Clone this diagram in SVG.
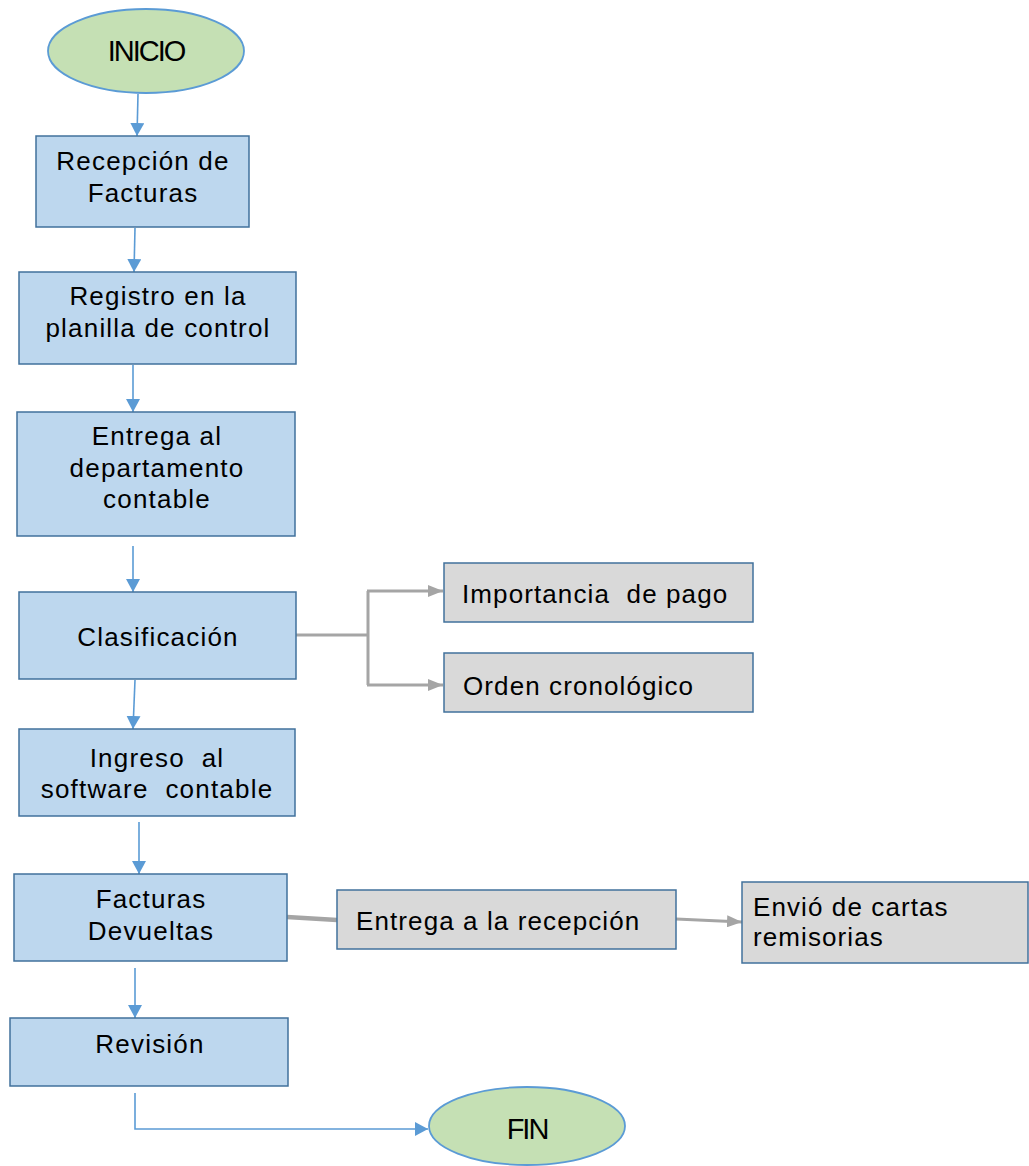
<svg xmlns="http://www.w3.org/2000/svg" width="1029" height="1166" viewBox="0 0 1029 1166">
<style>
.blue{fill:#BDD7EE;stroke:#41719C;stroke-width:1.5}
.gray{fill:#D9D9D9;stroke:#41719C;stroke-width:1.5}
.term{fill:#C5E0B4;stroke:#5B9BD5;stroke-width:1.8}
text{font-family:"Liberation Sans",Arial,sans-serif;fill:#000;white-space:pre}
.t{font-size:26px;letter-spacing:1.2px;text-anchor:middle}
.g{font-size:26px;letter-spacing:1.1px}
.e{font-size:29px;letter-spacing:-2px;text-anchor:middle}
.cb{fill:none;stroke:#5B9BD5;stroke-width:1.6}
.cg{fill:none;stroke:#A5A5A5;stroke-width:3}
</style>
<defs>
<marker id="ab" markerUnits="userSpaceOnUse" markerWidth="13" markerHeight="14" viewBox="0 0 13 14" refX="13" refY="7" orient="auto">
<path d="M0,0 L13,7 L0,14 z" fill="#5B9BD5"/>
</marker>
<marker id="ag" markerUnits="userSpaceOnUse" markerWidth="15" markerHeight="12" viewBox="0 0 15 12" refX="15" refY="6" orient="auto">
<path d="M0,0 L15,6 L0,12 z" fill="#A5A5A5"/>
</marker>
</defs>
<g id="connectors">
<path class="cb" d="M138,94 L137,136" marker-end="url(#ab)"/>
<path class="cb" d="M135,228 L134,272" marker-end="url(#ab)"/>
<path class="cb" d="M133,365 L133,412" marker-end="url(#ab)"/>
<path class="cb" d="M133,546 L133,592" marker-end="url(#ab)"/>
<path class="cb" d="M135,680 L133,729" marker-end="url(#ab)"/>
<path class="cb" d="M139,822 L139,874" marker-end="url(#ab)"/>
<path class="cb" d="M135,968 L135,1018" marker-end="url(#ab)"/>
<path class="cb" d="M135,1093 L135,1129 L428,1129" marker-end="url(#ab)"/>
<path class="cg" d="M296,635 L368,635"/>
<path class="cg" d="M368,591 L368,685"/>
<path class="cg" d="M367,591 L443,591" marker-end="url(#ag)"/>
<path class="cg" d="M367,685 L443,685" marker-end="url(#ag)"/>
<path d="M287,917 L337,920" fill="none" stroke="#A5A5A5" stroke-width="4.5"/>
<path class="cg" d="M676,919 L742,922" marker-end="url(#ag)"/>
</g>
<g id="inicio">
<ellipse class="term" cx="146" cy="51" rx="98" ry="42"/>
<text class="e" x="146" y="61">INICIO</text>
</g>
<g id="recepcion">
<rect class="blue" x="36" y="136" width="213" height="91"/>
<text class="t" x="143" y="170">Recepción de</text>
<text class="t" x="143" y="202">Facturas</text>
</g>
<g id="registro">
<rect class="blue" x="19" y="272" width="277" height="92"/>
<text class="t" x="158" y="305">Registro en la</text>
<text class="t" x="158" y="337">planilla de control</text>
</g>
<g id="entrega-depto">
<rect class="blue" x="17" y="412" width="278" height="124"/>
<text class="t" x="157" y="445">Entrega al</text>
<text class="t" x="157" y="477">departamento</text>
<text class="t" x="157" y="508">contable</text>
</g>
<g id="clasificacion">
<rect class="blue" x="19" y="592" width="277" height="87"/>
<text class="t" x="158" y="646">Clasificación</text>
</g>
<g id="importancia">
<rect class="gray" x="444" y="563" width="309" height="59"/>
<text class="g" x="462" y="603">Importancia  de pago</text>
</g>
<g id="orden">
<rect class="gray" x="444" y="653" width="309" height="59"/>
<text class="g" x="463" y="695">Orden cronológico</text>
</g>
<g id="ingreso">
<rect class="blue" x="19" y="729" width="276" height="87"/>
<text class="t" x="157" y="767">Ingreso  al</text>
<text class="t" x="157" y="798">software  contable</text>
</g>
<g id="devueltas">
<rect class="blue" x="14" y="874" width="273" height="87"/>
<text class="t" x="151" y="908">Facturas</text>
<text class="t" x="151" y="940">Devueltas</text>
</g>
<g id="entrega-recepcion">
<rect class="gray" x="337" y="890" width="339" height="59"/>
<text class="g" x="356" y="930">Entrega a la recepción</text>
</g>
<g id="envio">
<rect class="gray" x="742" y="882" width="286" height="81"/>
<text class="g" x="753" y="916">Envió de cartas</text>
<text class="g" x="753" y="946">remisorias</text>
</g>
<g id="revision">
<rect class="blue" x="10" y="1018" width="278" height="68"/>
<text class="t" x="150" y="1053">Revisión</text>
</g>
<g id="fin">
<ellipse class="term" cx="527" cy="1126" rx="98" ry="39"/>
<text class="e" x="527" y="1139">FIN</text>
</g>
</svg>
